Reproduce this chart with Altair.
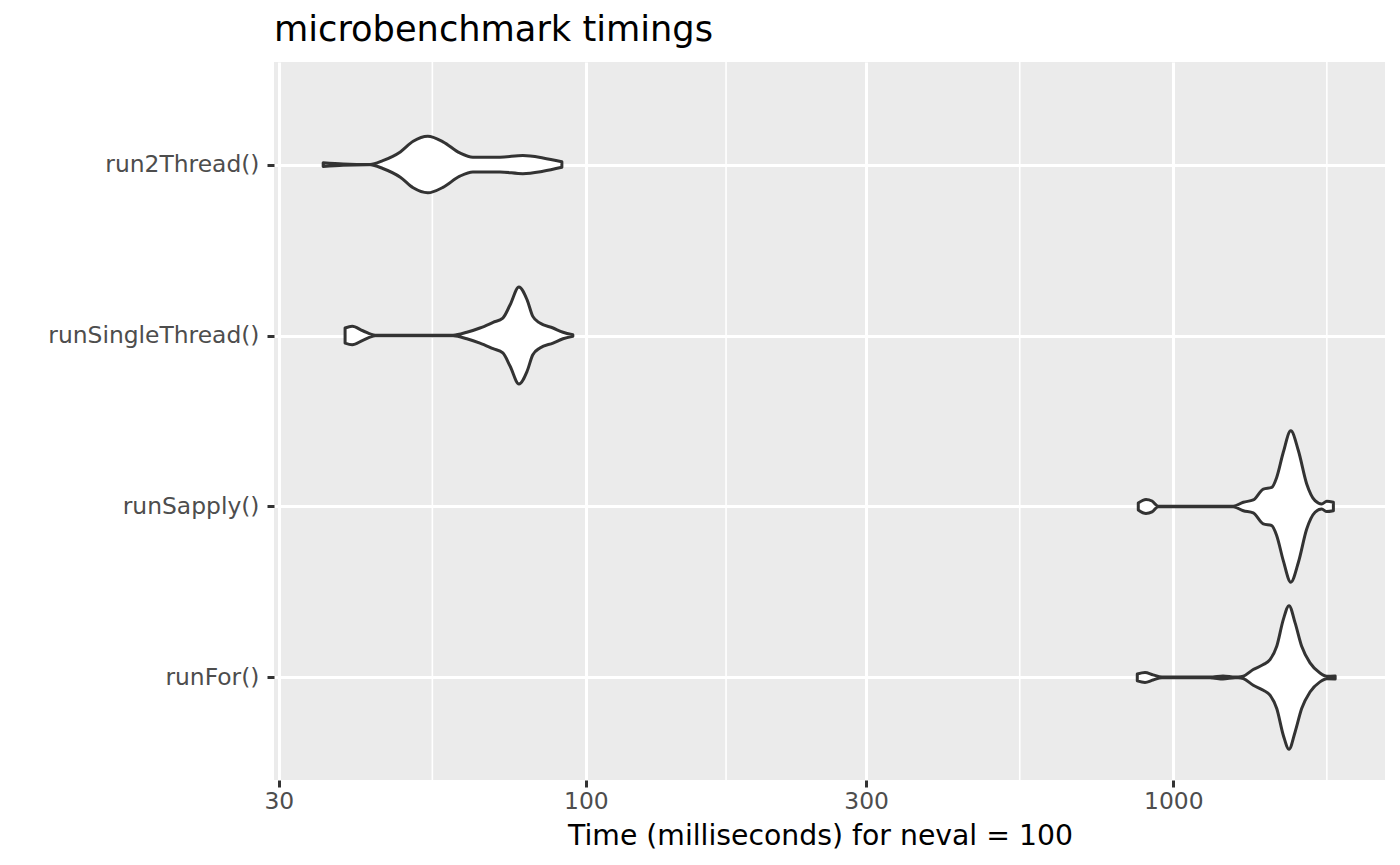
import json
import altair as alt
import pandas as pd

# categories, bottom to top (as ggplot orders factor levels)
categories = ["runFor()", "runSapply()", "runSingleThread()", "run2Thread()"]

# violin outlines: time (ms) and half-width (in category units)
t_2thread = [35.7, 38.6, 42.9, 45.1, 48.3, 50.8, 53.8, 57.1, 61.0, 64.2, 71.4, 78.1, 84.5, 91.0]
w_2thread = [0.011, 0.004, 0.001, 0.023, 0.074, 0.136, 0.165, 0.133, 0.068, 0.043, 0.043, 0.053, 0.039, 0.016]

t_single = [38.9, 40.0, 41.7, 43.8, 59.4, 62.7, 66.0, 69.5, 72.2, 74.3, 76.9, 79.4, 81.2, 83.5, 87.9, 91.4, 95.0]
w_single = [0.044, 0.054, 0.028, 0.002, 0.002, 0.019, 0.044, 0.077, 0.102, 0.180, 0.284, 0.209, 0.112, 0.073, 0.044, 0.019, 0.004]

t_sapply = [871.7, 898.5, 919.9, 941.9, 1265, 1316, 1368, 1423, 1471, 1500, 1539, 1585, 1633, 1687, 1743, 1789, 1825, 1873]
w_sapply = [0.020, 0.041, 0.032, 0.002, 0.002, 0.025, 0.038, 0.102, 0.112, 0.171, 0.317, 0.443, 0.326, 0.132, 0.034, 0.015, 0.030, 0.025]

t_for = [868.3, 895.0, 923.6, 956.7, 975.7, 1155, 1168, 1215, 1274, 1289, 1316, 1368, 1423, 1461, 1500, 1539, 1574, 1612, 1654, 1709, 1777, 1825, 1886]
w_for = [0.020, 0.029, 0.015, 0.002, 0.002, 0.002, 0.003, 0.009, 0.002, 0.002, 0.007, 0.046, 0.075, 0.104, 0.182, 0.338, 0.420, 0.319, 0.182, 0.085, 0.026, 0.007, 0.009]

x_ticks = [30, 100, 300, 1000]
minor_breaks = [54.77, 173.2, 547.7, 1825.7]

TITLE = "microbenchmark timings"
X_TITLE = "Time (milliseconds) for neval = 100"

rows = []
for cat, ts, ws in [
    ("run2Thread()", t_2thread, w_2thread),
    ("runSingleThread()", t_single, w_single),
    ("runSapply()", t_sapply, w_sapply),
    ("runFor()", t_for, w_for),
]:
    for t, w in zip(ts, ws):
        rows.append({"expr": cat, "time": t, "hw": w})
df = pd.DataFrame(rows)

cat_js = json.dumps(categories)
label_expr = f"{cat_js}[datum.value - 1]"

x_scale = alt.Scale(type="log", domain=[29.44, 2293], nice=False)

violins = (
    alt.Chart(df)
    .transform_calculate(
        pos=f"indexof({cat_js}, datum.expr) + 1",
    )
    .transform_calculate(upper="datum.pos + datum.hw", lower="datum.pos - datum.hw")
    .mark_area(fill="white", fillOpacity=1, stroke="#333333", strokeWidth=3,
               interpolate="monotone", strokeJoin="round")
    .encode(
        x=alt.X("time:Q", scale=x_scale, title=X_TITLE,
                axis=alt.Axis(values=x_ticks, format="d")),
        y=alt.Y("upper:Q", scale=alt.Scale(domain=[0.4, 4.6], nice=False, zero=False),
                axis=alt.Axis(values=[1, 2, 3, 4], labelExpr=label_expr, title=None)),
        y2="lower:Q",
        detail="expr:N",
    )
)

minor = (
    alt.Chart(pd.DataFrame({"m": minor_breaks}))
    .mark_rule(color="white", strokeWidth=1.6)
    .encode(x=alt.X("m:Q", scale=x_scale, title=X_TITLE))
)

chart = (
    alt.layer(minor, violins)
    .properties(
        width=1111,
        height=718,
        autosize="none",
        padding={"left": 266, "top": 54, "right": 7, "bottom": 75},
        background="white",
        title=alt.TitleParams(TITLE, anchor="start", fontSize=35.2, fontWeight="normal",
                              color="black", font="DejaVu Sans", baseline="alphabetic",
                              offset=15, dy=30, frame="group"),
    )
    .configure_view(fill="#EBEBEB", strokeWidth=0)
    .configure_axis(
        domain=False,
        gridColor="white",
        gridWidth=3,
        tickColor="#333333",
        tickWidth=3,
        tickSize=7,
        labelColor="#4D4D4D",
        labelFont="DejaVu Sans",
        labelFontSize=23.4,
        labelLimit=0,
        titleFont="DejaVu Sans",
        titleFontSize=28.3,
        titleFontWeight="normal",
        titleColor="black",
    )
    .configure_axisX(labelPadding=3, titleY=64, titleX=546, titleBaseline="alphabetic")
    .configure_axisY(labelPadding=8)
)

chart.save("out.html", embed_options={"renderer": "svg", "actions": False})
